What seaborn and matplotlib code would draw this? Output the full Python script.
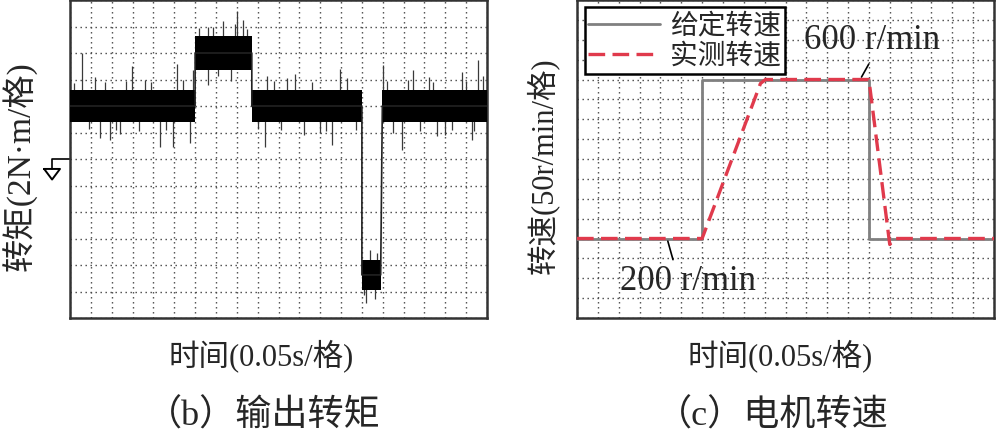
import numpy as np
import pandas as pd
import matplotlib
matplotlib.use("Agg")
import matplotlib.pyplot as plt
import seaborn as sns

# ---- data ----
# (b) output torque, time in s (0.05 s/div), torque in N*m (2 N*m/div)
seg_start = [0.0, 0.300, 0.436, 0.700, 0.749]
seg_end = [0.300, 0.436, 0.700, 0.745, 1.0]
seg_level = [4.0, 8.0, 4.0, -8.75, 4.0]
seg_half = [1.2, 1.25, 1.2, 1.15, 1.2]

spike_t = [0.028, 0.148, 0.256, 0.296, 0.344, 0.368, 0.401, 0.416, 0.472, 0.647,
           0.751, 0.823, 0.939, 0.979, 0.072, 0.096, 0.216, 0.248, 0.288, 0.332,
           0.468, 0.628, 0.795, 0.963, 0.711, 0.731, 0.060, 0.180, 0.330, 0.520,
           0.560, 0.860, 0.900, 0.120, 0.540, 0.600, 0.880, 0.990, 0.385, 0.720,
           0.010, 0.045, 0.085, 0.110, 0.135, 0.165, 0.195, 0.230, 0.270, 0.310,
           0.355, 0.425, 0.450, 0.490, 0.505, 0.580, 0.615, 0.665, 0.685, 0.760,
           0.775, 0.810, 0.840, 0.870, 0.915, 0.950, 0.970, 0.736, 0.705, 0.395]
spike_tip = [8.0, 7.0, 7.2, 6.7, 10.0, 10.4, 11.2, 10.5, 6.3, 6.8,
             7.1, 6.7, 6.6, 7.5, 1.6, 1.4, 0.9, 0.9, 1.2, 5.6,
             0.9, 1.05, 0.7, 1.4, -10.9, -10.6, 6.2, 6.0, 10.0, 6.1,
             1.8, 6.2, 1.8, 1.9, 6.4, 2.0, 1.7, 6.3, 5.9, -6.9,
             5.7, 2.3, 5.8, 2.2, 5.9, 2.1, 5.8, 2.2, 6.0, 9.9,
             6.3, 9.8, 2.3, 5.9, 2.2, 5.8, 2.1, 6.1, 2.2, 5.9,
             2.0, 6.0, 2.1, 5.8, 2.2, 5.9, 2.1, -7.1, -10.3, 10.2]

# (c) motor speed, time in s, speed in r/min (50 r/min/div)
ref_t = [0.0, 0.30, 0.30, 0.70, 0.70, 1.0]
ref_n = [200, 200, 600, 600, 200, 200]
meas_t = [0.0, 0.30, 0.44, 0.452, 0.70, 0.750, 0.762, 1.0]
meas_n = [200, 200, 590, 600, 600, 185, 200, 200]

sns.set_style("white")
plt.rcParams["font.family"] = ["Liberation Serif", "Noto Sans CJK SC", "DejaVu Sans"]
plt.rcParams["axes.unicode_minus"] = False

fig = plt.figure(figsize=(9.96, 4.34), dpi=100)
ax1 = fig.add_axes([70 / 996, 116 / 434, 417 / 996, 318 / 434])
ax2 = fig.add_axes([577 / 996, 116 / 434, 417 / 996, 318 / 434])

grid_kw = dict(color="#444444", linestyle=(0, (1, 2.6)), linewidth=1.0)

# ---- torque panel ----
ax1.set_xlim(0, 1.0)
ax1.set_ylim(-12, 12)
ax1.set_xticks(np.linspace(0, 1.0, 21))
ax1.set_yticks(np.linspace(-12, 12, 13))
ax1.grid(True, **grid_kw)

for t0, t1, lv, hw in zip(seg_start, seg_end, seg_level, seg_half):
    ax1.fill_between([t0, t1], [lv - hw] * 2, [lv + hw] * 2,
                     color="black", lw=0, zorder=4)

step_t, step_y = [], []
for t0, t1, lv in zip(seg_start, seg_end, seg_level):
    step_t += [t0, t1]
    step_y += [lv, lv]
sns.lineplot(x=step_t, y=step_y, estimator=None, sort=False, color="#222222",
             lw=1.2, ax=ax1, zorder=5)


def level_at(t):
    for t0, t1, lv in zip(seg_start, seg_end, seg_level):
        if t0 <= t <= t1:
            return lv
    return seg_level[-1]


ax1.vlines(spike_t, [level_at(t) for t in spike_t], spike_tip,
           color="#3a3a3a", lw=0.9, zorder=3)

# ground marker at the zero level
ax1.plot([0, -0.043, -0.043], [0, 0, -0.75], color="black", lw=1.2,
         clip_on=False, transform=ax1.get_yaxis_transform())
ax1.plot([-0.062, -0.024, -0.043, -0.062], [-0.75, -0.75, -1.55, -0.75],
         color="black", lw=1.4, clip_on=False, transform=ax1.get_yaxis_transform())
ax1.set_xticklabels([])
ax1.set_yticklabels([])

# ---- speed panel ----
ax2.set_xlim(0, 1.0)
ax2.set_ylim(0, 800)
ax2.set_xticks(np.linspace(0, 1.0, 21))
ax2.set_yticks(np.linspace(0, 800, 17))
ax2.grid(True, **grid_kw)

sns.lineplot(x=ref_t, y=ref_n, estimator=None, sort=False, color="#808080",
             lw=2.0, ax=ax2, label="给定转速", zorder=3)
sns.lineplot(x=meas_t, y=meas_n, estimator=None, sort=False, color="#e03a4c",
             lw=2.4, ax=ax2, label="实测转速", zorder=4)
ax2.lines[-1].set_dashes([5, 2.2])

ax2.annotate("", xy=(0.679, 600), xytext=(0.703, 645),
             arrowprops=dict(arrowstyle="-", lw=1.2, color="black"))
ax2.text(0.707, 697, "600 r/min", fontsize=25, ha="center", va="center",
         family="Liberation Serif")
ax2.annotate("", xy=(0.216, 200), xytext=(0.232, 140),
             arrowprops=dict(arrowstyle="-", lw=1.2, color="black"))
ax2.text(0.266, 93, "200 r/min", fontsize=25, ha="center", va="center",
         family="Liberation Serif")

leg = ax2.legend(loc="upper left", bbox_to_anchor=(0.019, 0.978),
                 frameon=True, fancybox=False, handlelength=2.6, handletextpad=0.35,
                 borderpad=0.12, labelspacing=0.0, borderaxespad=0,
                 prop={"family": ["Noto Sans CJK SC"], "size": 20})
leg.get_frame().set_edgecolor("black")
leg.get_frame().set_linewidth(1.8)
leg.get_frame().set_alpha(1)
ax2.set_xticklabels([])
ax2.set_yticklabels([])

for ax in (ax1, ax2):
    ax.set_xlabel("")
    ax.set_ylabel("")
    ax.tick_params(length=0)
    for sp in ax.spines.values():
        sp.set_color("#333333")
        sp.set_linewidth(1.8)

# ---- labels and captions ----
fig.text(20 / 996, 1 - 166 / 434, "转矩(2N·m/格)", rotation=90, fontsize=24,
         ha="center", va="center")
fig.text(543 / 996, 1 - 166 / 434, "转速(50r/min/格)", rotation=90, fontsize=22,
         ha="center", va="center")
fig.text(261 / 996, 1 - 356 / 434, "时间(0.05s/格)", fontsize=22, ha="center", va="center")
fig.text(780 / 996, 1 - 356 / 434, "时间(0.05s/格)", fontsize=22, ha="center", va="center")
fig.text(263 / 996, 1 - 416 / 434, "（b）输出转矩", fontsize=26, ha="center", va="center")
fig.text(772 / 996, 1 - 416 / 434, "（c）电机转速", fontsize=26, ha="center", va="center")

fig.savefig("out.png", dpi=100)
